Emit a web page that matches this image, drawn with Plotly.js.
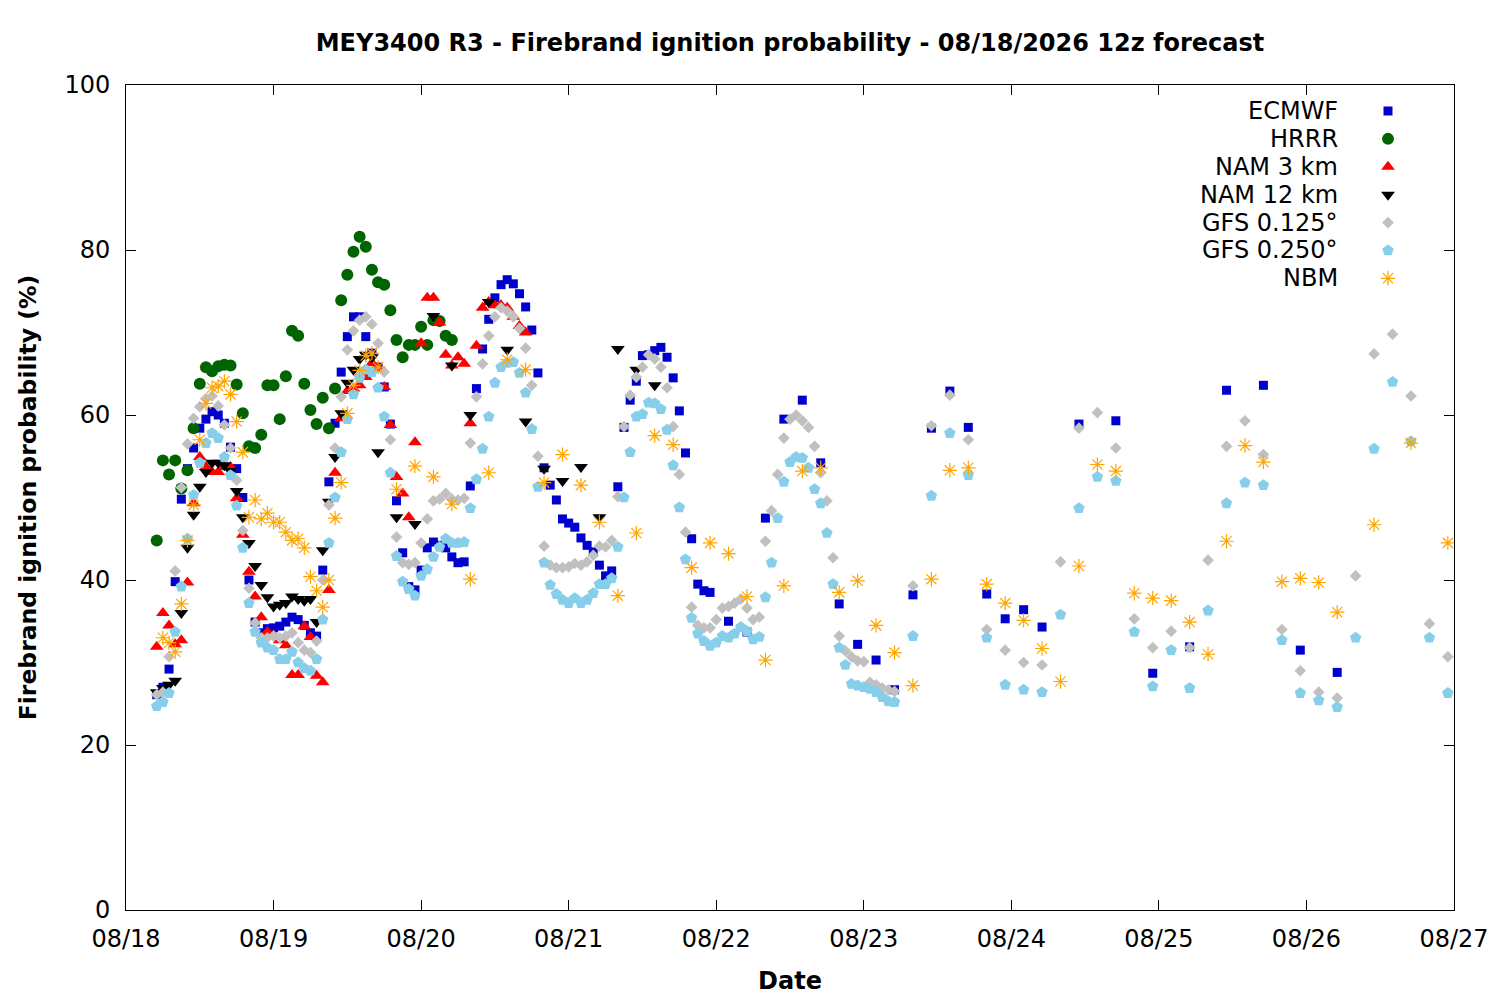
<!DOCTYPE html>
<html>
<head>
<meta charset="utf-8">
<script src="https://cdn.plot.ly/plotly-3.0.1.min.js"></script>
<style>
  html, body { margin: 0; padding: 0; background: #fff; }
  #chart { width: 1500px; height: 1000px; }
</style>
</head>
<body>
<div id="chart"></div>
<script>
// valid times are hours after 08/18 00 local; runs start at 12z (hour 5)
const hours = (start, step, count) => Array.from({ length: count }, (_, i) => start + i * step)

const dayLabels = ['08/18', '08/19', '08/20', '08/21', '08/22', '08/23', '08/24', '08/25', '08/26', '08/27']
const dayTicks = hours(0, 24, dayLabels.length)

const ecmwfTimes = [...hours(5, 1, 91), ...hours(98, 3, 18), ...hours(155, 6, 8)]
const ecmwf = [
  26.1, 27, 29.2, 39.8, 49.8, 53.5, 56, 58.4, 59.5, 60.4,
  60, 59, 56.1, 53.5, 50, 40, 34.9, 33.6, 34.1, 34.2,
  34.4, 34.9, 35.5, 35.2, 34.5, 33.6, 33.2, 41.2, 51.9, 59,
  65.2, 69.5, 71.9, 71.9, 69.5, 67.5, 65.8, 63.4, 58.9, 49.6,
  43.3, 39.2, 38.8, 41.2, 43.9, 44.6, 44.2, 43.9, 42.8, 42.1,
  42.2, 51.4, 63.2, 68, 71.6, 74.2, 75.8, 76.4, 75.9, 74.7,
  73.1, 70.3, 65.1, 53.6, 51.5, 49.7, 47.4, 46.9, 46.4, 45.1,
  44.2, 43.4, 41.8, 40.5, 41.1, 51.3, 58.5, 61.8, 64.1, 67.2,
  67.3, 67.8, 68.2, 67, 64.5, 60.5, 55.4, 45, 39.5, 38.7,
  38.5,
  35, 33.7, 47.5, 59.5, 61.8, 54.2, 37.1, 32.2, 30.3, 26.7,
  38.2, 58.4, 62.9, 58.5, 38.3, 35.3, 36.4, 34.3,
  58.9, 59.3, 28.7, 31.9, 63, 63.6, 31.5, 28.8,
]

const hrrrTimes = hours(5, 1, 49)
const hrrr = [
  44.8, 54.5, 52.8, 54.5, 51.1, 53.3, 58.4, 63.8, 65.8, 65.3,
  65.9, 66.1, 66, 63.7, 60.2, 56.2, 56, 57.6, 63.6, 63.6,
  59.5, 64.7, 70.2, 69.6, 63.8, 60.6, 58.9, 62.1, 58.4, 63.2,
  73.9, 77, 79.8, 81.6, 80.4, 77.6, 76.1, 75.8, 72.7, 69.1,
  67, 68.5, 68.5, 70.7, 68.5, 71.5, 71.4, 69.6, 69.1,
]

const nam3Times = hours(5, 1, 61)
const nam3 = [
  31.9, 36, 34.5, 32.2, 32.7, 39.7, 49.3, 54.9, 53.7, 53.1,
  53.1, 53.7, 53.7, 49.9, 45.5, 41, 38, 35.5, 33.7, 33.3,
  32.7, 32.1, 28.5, 28.5, 34.4, 33.1, 28.4, 27.6, 38.8, 53,
  59.6, 62.9, 63.2, 63.6, 64.6, 66.3, 65.7, 63.4, 58.8, 52.5,
  50.5, 47.6, 56.7, 68.7, 74.2, 74.2, 71.2, 67.3, 66, 67,
  66.2, 59, 68.4, 73, 73.7, 73.3, 73.3, 73, 71.9, 70.8,
  70,
]

const nam12Times = [...hours(5, 1, 37), ...hours(44, 3, 15)]
const nam12 = [
  26.4, 26.9, 27.3, 27.8, 36, 43.9, 47.9, 51.3, 53.1, 54.2,
  54.2, 53.9, 53.2, 50.8, 47.6, 44.5, 41.7, 39.4, 37.9, 36.8,
  37, 37.2, 38, 37.7, 37.5, 37.7, 34.9, 43.6, 49.5, 54.9,
  60.2, 63.9, 65.5, 66.8, 67.3, 67, 55.5,
  47.6, 46.8, 72, 66, 60, 73.7, 67.9, 59.2, 53.5, 52,
  53.7, 47.6, 68, 65.5, 63.6,
]

const gfsTimes = [...hours(5, 1, 121), ...hours(128, 3, 30)]
const gfs0125 = [
  26.1, 26.4, 30.7, 41.1, 51.2, 56.5, 59.6, 61, 62, 62.3,
  61.1, 58.8, 56, 52.1, 46, 39, 34.8, 33, 33, 33.2,
  33, 33.2, 33.6, 32.4, 31.5, 31.2, 32.6, 40, 49.1, 56,
  62.2, 67.9, 70.2, 71.5, 71.9, 71, 68.7, 65.2, 57, 45.2,
  42.1, 41.9, 42.1, 44.5, 47.4, 49.6, 49.8, 50.5, 49.8, 49.7,
  49.9, 56.6, 62.2, 66.2, 69.6, 71.9, 73, 72.6, 71.9, 70.5,
  68.1, 63.6, 55, 44.1, 41.8, 41.5, 41.5, 41.6, 42, 41.8,
  42.2, 43, 44.1, 44, 44.8, 50.1, 58.6, 62.4, 64.6, 65.8,
  67.3, 66.8, 65.8, 63.3, 58.6, 52.8, 45.8, 36.7, 34.5, 34.2,
  34.2, 35.2, 36.6, 36.8, 37.2, 37.7, 36.6, 35.2, 35.5, 44.7,
  48.4, 52.8, 57.2, 59.5, 60, 59.3, 58.5, 56.2, 53, 49.6,
  42.7, 33.2, 31.4, 30.7, 30.2, 30.1, 27.6, 27.3, 26.9, 26.7,
  26.5,
  39.3, 58.7, 62.4, 57, 34, 31.5, 30, 29.7, 42.2, 58.4,
  60.3, 56, 35.3, 31.8, 33.8, 31.8, 42.4, 56.2, 59.3, 55.2,
  34, 29, 26.4, 25.7, 40.5, 67.4, 69.8, 62.3, 34.7, 30.7,
]
const gfs0250 = [
  24.7, 25.2, 26.3, 33.7, 39.2, 45, 50.3, 54.2, 56.6, 57.8,
  57.2, 54.9, 52.7, 49, 43.9, 37.2, 33.7, 32.4, 31.8, 31.5,
  30.4, 30.4, 31.3, 30, 29.3, 29, 30.4, 35.2, 44.5, 50,
  55.5, 59.5, 62.5, 64.5, 65.5, 65.2, 63.3, 59.8, 53, 42.9,
  39.8, 38.9, 38.1, 40.5, 41.3, 42.8, 44, 45, 44.5, 44.5,
  44.6, 48.7, 52.2, 55.9, 59.8, 63.9, 65.8, 66.3, 66.4, 65.1,
  62.7, 58.3, 51.3, 42.1, 39.4, 38.3, 37.6, 37.2, 37.8, 37.2,
  37.6, 38.4, 39.5, 39.5, 40.2, 44, 50, 55.5, 59.8, 60.1,
  61.5, 61.4, 60.7, 58.2, 53.9, 48.8, 42.5, 35.4, 33.5, 32.6,
  32, 32.4, 33.2, 33, 33.5, 34.3, 33.8, 32.8, 33.1, 37.9,
  42.1, 47.5, 51.9, 54.3, 54.9, 54.8, 53.6, 51, 49.3, 45.7,
  39.5, 31.8, 29.7, 27.4, 27.2, 27, 26.8, 26.4, 25.8, 25.3,
  25.2,
  33.2, 50.2, 57.8, 52.7, 33, 27.3, 26.7, 26.4, 35.8, 48.7,
  52.5, 52, 33.7, 27.1, 31.5, 26.9, 36.3, 49.3, 51.8, 51.5,
  32.7, 26.3, 25.4, 24.6, 33, 55.9, 64, 56.8, 33, 26.3,
]

const nbmTimes = [...hours(6, 1, 36), ...hours(44, 3, 52), ...hours(203, 6, 3)]
const nbm = [
  33, 32.4, 31.3, 37.1, 44.8, 49.1, 57, 61.4, 63.3, 63.5,
  64.1, 62.5, 59.2, 55.5, 47.6, 49.7, 47.4, 48.1, 47, 47,
  45.8, 44.8, 45, 43.9, 40.4, 38.7, 36.7, 40, 47.5, 51.8,
  60.2, 63.6, 65.4, 67.2, 67.5, 65.8,
  51, 53.8, 52.5, 49.2, 40.1, 53, 66.7, 65.5, 51.8, 55.2,
  51.5, 47, 38.1, 45.7, 57.5, 56.4, 41.5, 44.5, 43.2, 38,
  30.3, 39.3, 53.2, 53.6, 38.5, 39.9, 34.5, 31.2, 27.2, 40.1,
  53.3, 53.6, 39.5, 37.2, 35.1, 31.7, 27.7, 41.7, 54, 53.2,
  38.4, 37.8, 37.5, 34.9, 31, 44.7, 56.3, 54.3, 39.8, 40.2,
  39.7, 36.1,
  46.7, 56.6, 44.5,
]

const series = [
  { name: 'ECMWF', x: ecmwfTimes, y: ecmwf, symbol: 'square', size: 9, color: '#0000cc' },
  { name: 'HRRR', x: hrrrTimes, y: hrrr, symbol: 'circle', size: 12, color: '#006400' },
  { name: 'NAM 3 km', x: nam3Times, y: nam3, symbol: 'triangle-up', size: 12, color: '#ff0000' },
  { name: 'NAM 12 km', x: nam12Times, y: nam12, symbol: 'triangle-down', size: 12, color: '#000000' },
  { name: 'GFS 0.125°', x: gfsTimes, y: gfs0125, symbol: 'diamond', size: 9, color: '#c0c0c0' },
  { name: 'GFS 0.250°', x: gfsTimes, y: gfs0250, symbol: 'pentagon', size: 12, color: '#87ceeb' },
  { name: 'NBM', x: nbmTimes, y: nbm, symbol: 'asterisk-open', size: 12, color: '#ffa500' },
]

const font = 'DejaVu Sans, sans-serif'
const fontSize = 24

const markerOf = s => s.symbol === 'asterisk-open'
  ? { symbol: s.symbol, size: s.size, color: s.color, line: { color: s.color, width: 1.2 } }
  : { symbol: s.symbol, size: s.size, color: s.color, line: { width: 0 } }

const traces = series.map(s => ({
  x: s.x, y: s.y, type: 'scatter', mode: 'markers', name: s.name,
  marker: markerOf(s), showlegend: false, cliponaxis: true,
}))

// gnuplot-style key: right-aligned text, sample to the right
const keyX = 0.9503
const keyTextX = 0.9142
const keyTop = 0.9685
const keyStep = 0.0338
series.forEach((s, i) => {
  traces.push({
    x: [keyX], y: [keyTop - i * keyStep], xaxis: 'x2', yaxis: 'y2',
    type: 'scatter', mode: 'markers', marker: markerOf(s), showlegend: false, hoverinfo: 'skip',
  })
})
const keyLabels = series.map((s, i) => ({
  xref: 'x2', yref: 'y2', x: keyTextX, y: keyTop - i * keyStep, text: s.name,
  xanchor: 'right', yanchor: 'middle', showarrow: false, font: { family: font, size: fontSize, color: '#000' },
}))

const axisBase = {
  showline: true, linecolor: '#000', linewidth: 1, mirror: 'ticks',
  ticks: 'inside', ticklen: 10, tickcolor: '#000', tickwidth: 1,
  showgrid: false, zeroline: false,
  tickfont: { family: font, size: fontSize, color: '#000' },
}

const boldFont = { family: font, size: fontSize, weight: 'bold', color: '#000' }

const layout = {
  width: 1500, height: 1000,
  paper_bgcolor: '#fff', plot_bgcolor: '#fff',
  margin: { l: 126, r: 46, t: 85, b: 90 },
  title: {
    text: 'MEY3400 R3 - Firebrand ignition probability - 08/18/2026 12z forecast',
    font: boldFont,
    xref: 'paper', x: 0.5, xanchor: 'center', yref: 'container', y: 0.957, yanchor: 'middle',
  },
  xaxis: {
    ...axisBase, range: [0, 216], tickmode: 'array', tickvals: dayTicks, ticktext: dayLabels,
    ticklabelstandoff: 7,
    title: { text: 'Date', font: boldFont, standoff: 20 },
  },
  yaxis: {
    ...axisBase, range: [0, 100], tickmode: 'linear', tick0: 0, dtick: 20,
    ticklabelstandoff: 10,
    title: { text: 'Firebrand ignition probability (%)', font: { ...boldFont, size: 23.5 }, standoff: 21 },
  },
  xaxis2: { overlaying: 'x', range: [0, 1], visible: false, fixedrange: true },
  yaxis2: { overlaying: 'y', range: [0, 1], visible: false, fixedrange: true },
  annotations: keyLabels,
  showlegend: false,
}

Plotly.newPlot('chart', traces, layout, { staticPlot: true })
</script>
</body>
</html>
